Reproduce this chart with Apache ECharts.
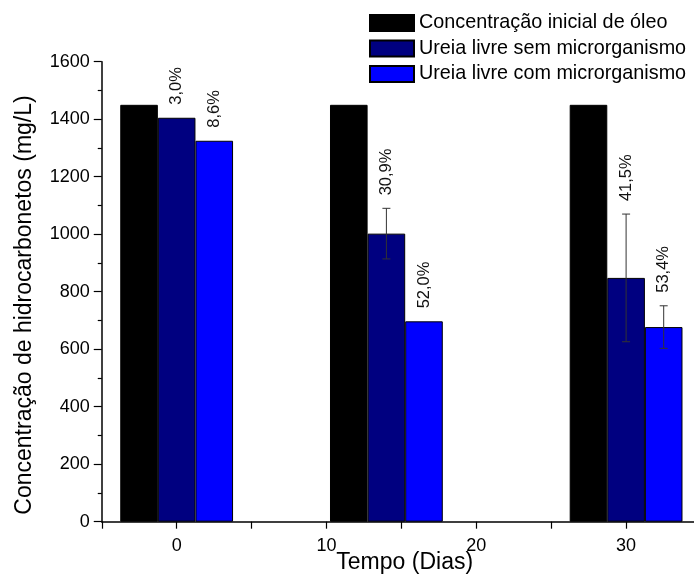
<!DOCTYPE html>
<html>
<head>
<meta charset="utf-8">
<script src="https://cdn.jsdelivr.net/npm/echarts@6/dist/echarts.min.js"></script>
<style>
html,body{margin:0;padding:0;background:#fff;overflow:hidden;}
#chart{width:704px;height:574px;}
</style>
</head>
<body>
<div id="chart"></div>
<script>
// ---- data ----
const days = [0, 14, 30];
const seriesNames = ['Concentração inicial de óleo', 'Ureia livre sem microrganismo', 'Ureia livre com microrganismo'];
const oleoInicial = [1450, 1450, 1450];
const semMicro = [1405, 1002, 848];
const semMicroErr = [0, 88, 222];
const comMicro = [1325, 697, 677];
const comMicroErr = [0, 0, 74];
const semMicroPct = ['3,0%', '30,9%', '41,5%'];
const comMicroPct = ['8,6%', '52,0%', '53,4%'];
const xTickLabels = ['0', '10', '20', '30'];
const yAxisTitle = 'Concentração de hidrocarbonetos (mg/L)';
const xAxisTitle = 'Tempo (Dias)';

// ---- style ----
const FONT = '"Liberation Sans", Arial, sans-serif';
const BAR_W = 37.6;
const colors = ['#000000', '#000080', '#0000ff'];

const chart = echarts.init(document.getElementById('chart'), null, {renderer: 'canvas'});

function errSeries(means, errs, labels, offset) {
  return {
    type: 'custom',
    silent: true,
    z: 5,
    data: days.map((d, i) => [d, means[i], errs[i]]),
    renderItem: function (params, api) {
      const i = params.dataIndex;
      const x = api.value(0), y = api.value(1), e = api.value(2);
      const c = api.coord([x, y]);
      const cx = c[0] + offset;
      const children = [];
      let topY = c[1];
      if (e > 0) {
        const t = api.coord([x, y + e])[1];
        const b = api.coord([x, y - e])[1];
        topY = t;
        const st = {stroke: '#333', lineWidth: 1};
        children.push({type: 'line', shape: {x1: cx, y1: t, x2: cx, y2: b}, style: st});
        children.push({type: 'line', shape: {x1: cx - 4, y1: t, x2: cx + 4, y2: t}, style: st});
        children.push({type: 'line', shape: {x1: cx - 4, y1: b, x2: cx + 4, y2: b}, style: st});
      }
      children.push({
        type: 'text', x: cx, y: topY - 13, rotation: Math.PI / 2,
        style: {text: labels[i], fontSize: 16.5, fontFamily: FONT, fill: '#111', align: 'left', verticalAlign: 'middle'}
      });
      return {type: 'group', children: children};
    }
  };
}

function barSeries(name, vals, color) {
  return {
    name: name, type: 'bar',
    data: days.map((d, i) => [d, vals[i]]),
    barWidth: BAR_W, barGap: '0%',
    itemStyle: {color: color, borderColor: '#000', borderWidth: 1},
    emphasis: {disabled: true}
  };
}

const option = {
  animation: false,
  backgroundColor: '#fff',
  grid: {left: 101.75, right: 0, top: 61.7, bottom: 52.3, containLabel: false},
  legend: {
    orient: 'vertical', left: 369, top: 13, padding: 0,
    itemWidth: 44, itemHeight: 16, itemGap: 5.5,
    icon: 'rect',
    textStyle: {fontSize: 19.8, fontFamily: FONT, color: '#000'},
    data: seriesNames
  },
  xAxis: {
    type: 'value', min: -5, max: 35, interval: 5,
    axisLine: {show: true, onZero: false, lineStyle: {color: '#000', width: 1.5}},
    axisTick: {show: true, length: 7, lineStyle: {color: '#000', width: 1.2}},
    splitLine: {show: false},
    axisLabel: {
      fontSize: 18, fontFamily: FONT, color: '#000', margin: 15,
      formatter: function (v) {
        const s = String(v);
        return xTickLabels.indexOf(s) >= 0 ? s : '';
      }
    }
  },
  yAxis: {
    type: 'value', min: 0, max: 1600, interval: 200,
    axisLine: {show: true, onZero: false, lineStyle: {color: '#000', width: 1.5}},
    axisTick: {show: true, length: 8, lineStyle: {color: '#000', width: 1.2}},
    minorTick: {show: true, splitNumber: 2, length: 4, lineStyle: {color: '#000', width: 1.2}},
    splitLine: {show: false},
    axisLabel: {fontSize: 18, fontFamily: FONT, color: '#000', margin: 12,
      formatter: function (v) { return String(v); }}
  },
  graphic: [
    {type: 'text', x: 25, y: 305, rotation: Math.PI / 2,
     style: {text: yAxisTitle, fontSize: 23, fontFamily: FONT, fill: '#000', align: 'center', verticalAlign: 'middle'}},
    {type: 'text', x: 404.7, y: 563,
     style: {text: xAxisTitle, fontSize: 23, fontFamily: FONT, fill: '#000', align: 'center', verticalAlign: 'middle'}}
  ],
  series: [
    barSeries(seriesNames[0], oleoInicial, colors[0]),
    barSeries(seriesNames[1], semMicro, colors[1]),
    barSeries(seriesNames[2], comMicro, colors[2]),
    errSeries(semMicro, semMicroErr, semMicroPct, 0),
    errSeries(comMicro, comMicroErr, comMicroPct, BAR_W)
  ]
};
chart.setOption(option);
</script>
</body>
</html>
